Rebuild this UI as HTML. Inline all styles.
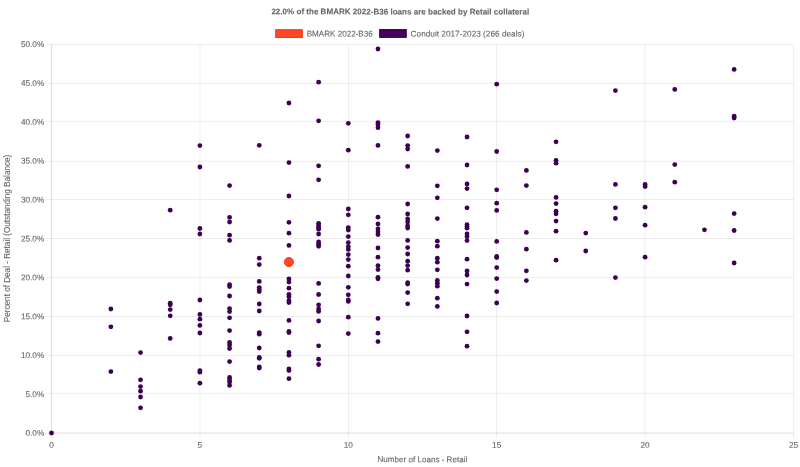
<!DOCTYPE html><html><head><meta charset="utf-8"><style>html,body{margin:0;padding:0;background:#fff}svg{display:block}text{font-family:"Liberation Sans",sans-serif;fill:#666;stroke:#666;stroke-width:0.1px}</style></head><body>
<svg style="will-change:transform" width="800" height="467" viewBox="0 0 800 467">
<rect width="800" height="467" fill="#fff"/>
<g stroke="#000" stroke-opacity="0.1" stroke-width="0.7"><line x1="45.95" y1="433.30" x2="793.60" y2="433.30"/><line x1="45.95" y1="393.45" x2="793.60" y2="393.45"/><line x1="45.95" y1="355.40" x2="793.60" y2="355.40"/><line x1="45.95" y1="316.50" x2="793.60" y2="316.50"/><line x1="45.95" y1="277.45" x2="793.60" y2="277.45"/><line x1="45.95" y1="238.50" x2="793.60" y2="238.50"/><line x1="45.95" y1="199.45" x2="793.60" y2="199.45"/><line x1="45.95" y1="161.30" x2="793.60" y2="161.30"/><line x1="45.95" y1="121.45" x2="793.60" y2="121.45"/><line x1="45.95" y1="83.50" x2="793.60" y2="83.50"/><line x1="45.95" y1="44.45" x2="793.60" y2="44.45"/><line x1="51.45" y1="44.45" x2="51.45" y2="438.40"/><line x1="200.00" y1="44.45" x2="200.00" y2="438.40"/><line x1="348.55" y1="44.45" x2="348.55" y2="438.40"/><line x1="496.55" y1="44.45" x2="496.55" y2="438.40"/><line x1="645.00" y1="44.45" x2="645.00" y2="438.40"/><line x1="793.60" y1="44.45" x2="793.60" y2="438.40"/><line x1="51.45" y1="432.80" x2="793.60" y2="432.80"/><line x1="51.45" y1="44.45" x2="51.45" y2="433.30"/></g>
<g font-size="8.25" transform="matrix(1 0.0006 0 1 0 0)"><text x="44.30" y="435.78" text-anchor="end">0.0%</text><text x="44.30" y="396.90" text-anchor="end">5.0%</text><text x="44.30" y="358.02" text-anchor="end">10.0%</text><text x="44.30" y="319.14" text-anchor="end">15.0%</text><text x="44.30" y="280.26" text-anchor="end">20.0%</text><text x="44.30" y="241.38" text-anchor="end">25.0%</text><text x="44.30" y="202.50" text-anchor="end">30.0%</text><text x="44.30" y="163.62" text-anchor="end">35.0%</text><text x="44.30" y="124.74" text-anchor="end">40.0%</text><text x="44.30" y="85.86" text-anchor="end">45.0%</text><text x="44.30" y="46.98" text-anchor="end">50.0%</text><text x="51.50" y="447.72" text-anchor="middle">0</text><text x="199.90" y="447.63" text-anchor="middle">5</text><text x="348.30" y="447.54" text-anchor="middle">10</text><text x="496.70" y="447.45" text-anchor="middle">15</text><text x="645.10" y="447.36" text-anchor="middle">20</text><text x="793.50" y="447.27" text-anchor="middle">25</text><text x="271.40" y="14.16" textLength="257.8" lengthAdjust="spacingAndGlyphs" font-weight="bold">22.0% of the BMARK 2022-B36 loans are backed by Retail collateral</text><text x="306.70" y="36.30" textLength="66" lengthAdjust="spacingAndGlyphs">BMARK 2022-B36</text><text x="410.60" y="36.22" textLength="113.8" lengthAdjust="spacingAndGlyphs">Conduit 2017-2023 (266 deals)</text><text x="377.40" y="461.90" textLength="89.9" lengthAdjust="spacingAndGlyphs">Number of Loans - Retail</text></g>
<text transform="translate(10.3,322.15) rotate(-90)" textLength="167.4" lengthAdjust="spacingAndGlyphs" font-size="8.25">Percent of Deal - Retail (Outstanding Balance)</text>
<rect x="275.7" y="29.7" width="26.6" height="7.85" fill="#ff4826" stroke="#ff2600" stroke-width="0.9"/>
<rect x="379.65" y="29.45" width="26.65" height="8.0" fill="#44005a" stroke="#33004a" stroke-width="0.9"/>
<g fill="#3d0053"><circle cx="51.50" cy="433.00" r="2.4"/><circle cx="110.86" cy="309.00" r="2.4"/><circle cx="110.86" cy="326.80" r="2.4"/><circle cx="110.86" cy="371.60" r="2.4"/><circle cx="140.54" cy="352.60" r="2.4"/><circle cx="140.54" cy="379.80" r="2.4"/><circle cx="140.54" cy="386.60" r="2.4"/><circle cx="140.54" cy="391.20" r="2.4"/><circle cx="140.54" cy="397.00" r="2.4"/><circle cx="140.54" cy="407.80" r="2.4"/><circle cx="170.22" cy="210.20" r="2.4"/><circle cx="170.22" cy="303.20" r="2.4"/><circle cx="170.22" cy="304.80" r="2.4"/><circle cx="170.22" cy="309.60" r="2.4"/><circle cx="170.22" cy="315.80" r="2.4"/><circle cx="170.22" cy="338.40" r="2.4"/><circle cx="199.90" cy="145.60" r="2.4"/><circle cx="199.90" cy="167.00" r="2.4"/><circle cx="199.90" cy="228.50" r="2.4"/><circle cx="199.90" cy="234.00" r="2.4"/><circle cx="199.90" cy="300.00" r="2.4"/><circle cx="199.90" cy="314.40" r="2.4"/><circle cx="199.90" cy="319.20" r="2.4"/><circle cx="199.90" cy="325.40" r="2.4"/><circle cx="199.90" cy="333.00" r="2.4"/><circle cx="199.90" cy="370.60" r="2.4"/><circle cx="199.90" cy="372.20" r="2.4"/><circle cx="199.90" cy="383.20" r="2.4"/><circle cx="229.58" cy="185.60" r="2.4"/><circle cx="229.58" cy="217.30" r="2.4"/><circle cx="229.58" cy="222.00" r="2.4"/><circle cx="229.58" cy="235.20" r="2.4"/><circle cx="229.58" cy="240.40" r="2.4"/><circle cx="229.58" cy="284.60" r="2.4"/><circle cx="229.58" cy="286.60" r="2.4"/><circle cx="229.58" cy="296.00" r="2.4"/><circle cx="229.58" cy="308.60" r="2.4"/><circle cx="229.58" cy="311.60" r="2.4"/><circle cx="229.58" cy="317.80" r="2.4"/><circle cx="229.58" cy="330.60" r="2.4"/><circle cx="229.58" cy="342.50" r="2.4"/><circle cx="229.58" cy="345.00" r="2.4"/><circle cx="229.58" cy="348.50" r="2.4"/><circle cx="229.58" cy="361.60" r="2.4"/><circle cx="229.58" cy="377.40" r="2.4"/><circle cx="229.58" cy="380.00" r="2.4"/><circle cx="229.58" cy="382.00" r="2.4"/><circle cx="229.58" cy="385.40" r="2.4"/><circle cx="259.26" cy="145.30" r="2.4"/><circle cx="259.26" cy="258.20" r="2.4"/><circle cx="259.26" cy="264.60" r="2.4"/><circle cx="259.26" cy="281.40" r="2.4"/><circle cx="259.26" cy="287.60" r="2.4"/><circle cx="259.26" cy="289.60" r="2.4"/><circle cx="259.26" cy="291.60" r="2.4"/><circle cx="259.26" cy="304.00" r="2.4"/><circle cx="259.26" cy="311.00" r="2.4"/><circle cx="259.26" cy="332.60" r="2.4"/><circle cx="259.26" cy="334.20" r="2.4"/><circle cx="259.26" cy="348.00" r="2.4"/><circle cx="259.26" cy="357.50" r="2.4"/><circle cx="259.26" cy="358.30" r="2.4"/><circle cx="259.26" cy="367.00" r="2.4"/><circle cx="259.26" cy="368.10" r="2.4"/><circle cx="288.94" cy="103.00" r="2.4"/><circle cx="288.94" cy="162.60" r="2.4"/><circle cx="288.94" cy="196.00" r="2.4"/><circle cx="288.94" cy="222.30" r="2.4"/><circle cx="288.94" cy="233.20" r="2.4"/><circle cx="288.94" cy="245.40" r="2.4"/><circle cx="288.94" cy="279.00" r="2.4"/><circle cx="288.94" cy="282.00" r="2.4"/><circle cx="288.94" cy="288.20" r="2.4"/><circle cx="288.94" cy="294.40" r="2.4"/><circle cx="288.94" cy="296.60" r="2.4"/><circle cx="288.94" cy="300.50" r="2.4"/><circle cx="288.94" cy="302.50" r="2.4"/><circle cx="288.94" cy="320.40" r="2.4"/><circle cx="288.94" cy="331.40" r="2.4"/><circle cx="288.94" cy="332.60" r="2.4"/><circle cx="288.94" cy="352.50" r="2.4"/><circle cx="288.94" cy="355.20" r="2.4"/><circle cx="288.94" cy="368.80" r="2.4"/><circle cx="288.94" cy="370.50" r="2.4"/><circle cx="288.94" cy="378.70" r="2.4"/><circle cx="318.62" cy="82.20" r="2.4"/><circle cx="318.62" cy="120.80" r="2.4"/><circle cx="318.62" cy="165.80" r="2.4"/><circle cx="318.62" cy="179.80" r="2.4"/><circle cx="318.62" cy="223.30" r="2.4"/><circle cx="318.62" cy="225.60" r="2.4"/><circle cx="318.62" cy="227.60" r="2.4"/><circle cx="318.62" cy="229.20" r="2.4"/><circle cx="318.62" cy="234.00" r="2.4"/><circle cx="318.62" cy="241.90" r="2.4"/><circle cx="318.62" cy="244.20" r="2.4"/><circle cx="318.62" cy="246.30" r="2.4"/><circle cx="318.62" cy="283.40" r="2.4"/><circle cx="318.62" cy="294.50" r="2.4"/><circle cx="318.62" cy="304.80" r="2.4"/><circle cx="318.62" cy="309.00" r="2.4"/><circle cx="318.62" cy="311.40" r="2.4"/><circle cx="318.62" cy="321.00" r="2.4"/><circle cx="318.62" cy="345.80" r="2.4"/><circle cx="318.62" cy="359.20" r="2.4"/><circle cx="318.62" cy="364.50" r="2.4"/><circle cx="348.30" cy="123.30" r="2.4"/><circle cx="348.30" cy="150.20" r="2.4"/><circle cx="348.30" cy="209.00" r="2.4"/><circle cx="348.30" cy="214.80" r="2.4"/><circle cx="348.30" cy="227.60" r="2.4"/><circle cx="348.30" cy="230.00" r="2.4"/><circle cx="348.30" cy="236.60" r="2.4"/><circle cx="348.30" cy="242.60" r="2.4"/><circle cx="348.30" cy="246.60" r="2.4"/><circle cx="348.30" cy="249.40" r="2.4"/><circle cx="348.30" cy="254.60" r="2.4"/><circle cx="348.30" cy="259.60" r="2.4"/><circle cx="348.30" cy="266.20" r="2.4"/><circle cx="348.30" cy="276.00" r="2.4"/><circle cx="348.30" cy="287.30" r="2.4"/><circle cx="348.30" cy="294.80" r="2.4"/><circle cx="348.30" cy="300.00" r="2.4"/><circle cx="348.30" cy="301.40" r="2.4"/><circle cx="348.30" cy="317.20" r="2.4"/><circle cx="348.30" cy="333.60" r="2.4"/><circle cx="377.98" cy="49.00" r="2.4"/><circle cx="377.98" cy="122.60" r="2.4"/><circle cx="377.98" cy="124.50" r="2.4"/><circle cx="377.98" cy="127.70" r="2.4"/><circle cx="377.98" cy="145.40" r="2.4"/><circle cx="377.98" cy="217.20" r="2.4"/><circle cx="377.98" cy="224.00" r="2.4"/><circle cx="377.98" cy="229.00" r="2.4"/><circle cx="377.98" cy="232.00" r="2.4"/><circle cx="377.98" cy="234.60" r="2.4"/><circle cx="377.98" cy="248.00" r="2.4"/><circle cx="377.98" cy="257.20" r="2.4"/><circle cx="377.98" cy="265.60" r="2.4"/><circle cx="377.98" cy="269.50" r="2.4"/><circle cx="377.98" cy="277.30" r="2.4"/><circle cx="377.98" cy="278.80" r="2.4"/><circle cx="377.98" cy="318.40" r="2.4"/><circle cx="377.98" cy="333.20" r="2.4"/><circle cx="377.98" cy="341.60" r="2.4"/><circle cx="407.66" cy="136.00" r="2.4"/><circle cx="407.66" cy="145.60" r="2.4"/><circle cx="407.66" cy="149.00" r="2.4"/><circle cx="407.66" cy="166.40" r="2.4"/><circle cx="407.66" cy="204.00" r="2.4"/><circle cx="407.66" cy="214.00" r="2.4"/><circle cx="407.66" cy="219.00" r="2.4"/><circle cx="407.66" cy="222.00" r="2.4"/><circle cx="407.66" cy="226.00" r="2.4"/><circle cx="407.66" cy="228.00" r="2.4"/><circle cx="407.66" cy="240.40" r="2.4"/><circle cx="407.66" cy="247.60" r="2.4"/><circle cx="407.66" cy="254.00" r="2.4"/><circle cx="407.66" cy="261.20" r="2.4"/><circle cx="407.66" cy="265.60" r="2.4"/><circle cx="407.66" cy="270.20" r="2.4"/><circle cx="407.66" cy="282.70" r="2.4"/><circle cx="407.66" cy="284.00" r="2.4"/><circle cx="407.66" cy="292.60" r="2.4"/><circle cx="407.66" cy="303.80" r="2.4"/><circle cx="437.34" cy="150.60" r="2.4"/><circle cx="437.34" cy="185.80" r="2.4"/><circle cx="437.34" cy="197.80" r="2.4"/><circle cx="437.34" cy="218.60" r="2.4"/><circle cx="437.34" cy="241.20" r="2.4"/><circle cx="437.34" cy="246.20" r="2.4"/><circle cx="437.34" cy="258.20" r="2.4"/><circle cx="437.34" cy="262.20" r="2.4"/><circle cx="437.34" cy="269.80" r="2.4"/><circle cx="437.34" cy="280.50" r="2.4"/><circle cx="437.34" cy="283.20" r="2.4"/><circle cx="437.34" cy="286.20" r="2.4"/><circle cx="437.34" cy="298.20" r="2.4"/><circle cx="437.34" cy="306.40" r="2.4"/><circle cx="467.02" cy="137.00" r="2.4"/><circle cx="467.02" cy="165.00" r="2.4"/><circle cx="467.02" cy="183.90" r="2.4"/><circle cx="467.02" cy="188.60" r="2.4"/><circle cx="467.02" cy="207.80" r="2.4"/><circle cx="467.02" cy="224.60" r="2.4"/><circle cx="467.02" cy="226.40" r="2.4"/><circle cx="467.02" cy="228.20" r="2.4"/><circle cx="467.02" cy="234.00" r="2.4"/><circle cx="467.02" cy="236.60" r="2.4"/><circle cx="467.02" cy="240.60" r="2.4"/><circle cx="467.02" cy="259.20" r="2.4"/><circle cx="467.02" cy="271.00" r="2.4"/><circle cx="467.02" cy="275.00" r="2.4"/><circle cx="467.02" cy="284.10" r="2.4"/><circle cx="467.02" cy="316.00" r="2.4"/><circle cx="467.02" cy="331.80" r="2.4"/><circle cx="467.02" cy="346.20" r="2.4"/><circle cx="496.70" cy="84.20" r="2.4"/><circle cx="496.70" cy="151.50" r="2.4"/><circle cx="496.70" cy="189.80" r="2.4"/><circle cx="496.70" cy="203.20" r="2.4"/><circle cx="496.70" cy="210.40" r="2.4"/><circle cx="496.70" cy="241.40" r="2.4"/><circle cx="496.70" cy="256.40" r="2.4"/><circle cx="496.70" cy="257.60" r="2.4"/><circle cx="496.70" cy="267.60" r="2.4"/><circle cx="496.70" cy="278.60" r="2.4"/><circle cx="496.70" cy="291.60" r="2.4"/><circle cx="496.70" cy="303.00" r="2.4"/><circle cx="526.38" cy="170.40" r="2.4"/><circle cx="526.38" cy="185.60" r="2.4"/><circle cx="526.38" cy="232.40" r="2.4"/><circle cx="526.38" cy="249.20" r="2.4"/><circle cx="526.38" cy="270.80" r="2.4"/><circle cx="526.38" cy="280.60" r="2.4"/><circle cx="556.06" cy="141.80" r="2.4"/><circle cx="556.06" cy="160.30" r="2.4"/><circle cx="556.06" cy="163.20" r="2.4"/><circle cx="556.06" cy="197.40" r="2.4"/><circle cx="556.06" cy="203.60" r="2.4"/><circle cx="556.06" cy="211.20" r="2.4"/><circle cx="556.06" cy="213.80" r="2.4"/><circle cx="556.06" cy="221.10" r="2.4"/><circle cx="556.06" cy="231.20" r="2.4"/><circle cx="556.06" cy="260.20" r="2.4"/><circle cx="585.74" cy="233.10" r="2.4"/><circle cx="585.74" cy="251.00" r="2.4"/><circle cx="615.42" cy="90.60" r="2.4"/><circle cx="615.42" cy="184.40" r="2.4"/><circle cx="615.42" cy="207.80" r="2.4"/><circle cx="615.42" cy="218.50" r="2.4"/><circle cx="615.42" cy="277.60" r="2.4"/><circle cx="645.10" cy="184.40" r="2.4"/><circle cx="645.10" cy="186.60" r="2.4"/><circle cx="645.10" cy="207.20" r="2.4"/><circle cx="645.10" cy="225.20" r="2.4"/><circle cx="645.10" cy="257.20" r="2.4"/><circle cx="674.78" cy="89.40" r="2.4"/><circle cx="674.78" cy="164.60" r="2.4"/><circle cx="674.78" cy="182.20" r="2.4"/><circle cx="704.46" cy="229.80" r="2.4"/><circle cx="734.14" cy="69.40" r="2.4"/><circle cx="734.14" cy="116.20" r="2.4"/><circle cx="734.14" cy="118.00" r="2.4"/><circle cx="734.14" cy="213.60" r="2.4"/><circle cx="734.14" cy="230.50" r="2.4"/><circle cx="734.14" cy="263.00" r="2.4"/></g>
<circle cx="288.94" cy="262.05" r="4.55" fill="#ff4826" stroke="#ff2600" stroke-width="0.9"/>
</svg></body></html>
